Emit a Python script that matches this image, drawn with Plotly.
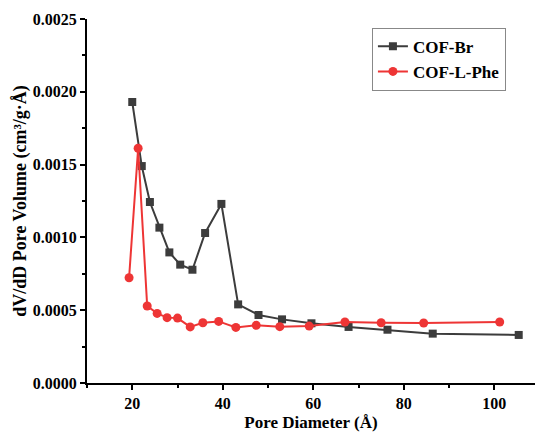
import plotly.graph_objects as go

# COF-Br data
br_x = [20.0, 22.1, 23.9, 26.0, 28.2, 30.6, 33.3, 36.1, 39.7, 43.4, 47.9, 53.1, 59.6, 67.8, 76.4, 86.4, 105.4]
br_y = [0.00193, 0.00149, 0.001243, 0.001067, 0.000897, 0.000813, 0.000778, 0.00103, 0.00123,
        0.00054, 0.000467, 0.000437, 0.00041, 0.000385, 0.000366, 0.000339, 0.00033]

# COF-L-Phe data
phe_x = [19.3, 21.3, 23.3, 25.5, 27.7, 30.0, 32.8, 35.6, 39.1, 42.9, 47.4, 52.6, 59.1, 67.0, 75.0, 84.4, 101.2]
phe_y = [0.000723, 0.001612, 0.000529, 0.000478, 0.000449, 0.000446, 0.000385, 0.000414, 0.000423,
         0.000382, 0.000396, 0.000387, 0.000391, 0.000419, 0.000414, 0.000412, 0.000419]

x_ticks = [20, 40, 60, 80, 100]
y_ticks = [0.0000, 0.0005, 0.0010, 0.0015, 0.0020, 0.0025]

FONT = "Times New Roman, Liberation Serif, serif"

fig = go.Figure()
fig.add_trace(go.Scatter(
    x=br_x, y=br_y, mode="lines+markers", name="<b>COF-Br</b>",
    line=dict(color="#3c3c3c", width=2),
    marker=dict(symbol="square", size=8, color="#3c3c3c"),
))
fig.add_trace(go.Scatter(
    x=phe_x, y=phe_y, mode="lines+markers", name="<b>COF-L-Phe</b>",
    line=dict(color="#ee3535", width=2),
    marker=dict(symbol="circle", size=9, color="#ee3535"),
))

axis_common = dict(
    showgrid=False, zeroline=False, showline=True, linecolor="black", linewidth=2,
    ticks="outside", tickcolor="black", tickwidth=2, ticklen=5,
    tickfont=dict(family=FONT, size=16, color="black", weight="bold"),
    mirror=False,
)

fig.update_layout(
    width=536, height=439,
    margin=dict(l=87, r=1, t=19, b=56),
    paper_bgcolor="white", plot_bgcolor="white",
    font=dict(family=FONT, color="black"),
    xaxis=dict(
        range=[10, 109], tickvals=x_ticks, ticktext=[str(v) for v in x_ticks],
        minor=dict(dtick=10, tick0=10, ticks="outside", ticklen=3, tickwidth=2, tickcolor="black"),
        title=dict(text="<b>Pore Diameter (Å)</b>", font=dict(family=FONT, size=17, color="black"), standoff=5),
        **axis_common,
    ),
    yaxis=dict(
        range=[0, 0.0025], tickvals=y_ticks, ticktext=[f"{v:.4f}" for v in y_ticks],
        minor=dict(dtick=0.00025, tick0=0, ticks="outside", ticklen=3, tickwidth=2, tickcolor="black"),
        title=dict(text="<b>dV/dD Pore Volume (cm³/g·Å)</b>", font=dict(family=FONT, size=18, color="black"), standoff=1),
        **axis_common,
    ),
    legend=dict(
        x=0.636, y=0.976, xanchor="left", yanchor="top",
        bordercolor="#888888", borderwidth=1, bgcolor="white",
        font=dict(family=FONT, size=17, color="black"),
        tracegroupgap=0, itemwidth=30,
    ),
    showlegend=True,
)

fig.write_html("out.html")
